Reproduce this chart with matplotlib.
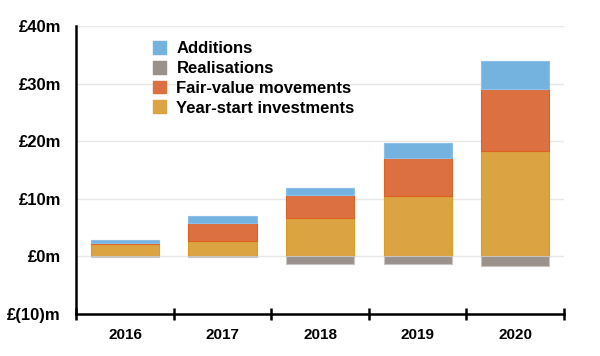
import matplotlib
matplotlib.use("Agg")
import matplotlib.pyplot as plt
from matplotlib.patches import Patch
import numpy as np

years = ["2016", "2017", "2018", "2019", "2020"]
year_start = [2.1, 2.7, 6.7, 10.5, 18.3]
fair_value = [0.2, 3.1, 3.9, 6.6, 10.7]
additions = [0.5, 1.2, 1.3, 2.5, 5.0]
realisations = [-0.1, -0.1, -1.4, -1.4, -1.6]
y_ticks = [-10, 0, 10, 20, 30, 40]
y_labels = ["£(10)m", "£0m", "£10m", "£20m", "£30m", "£40m"]

c_blue = "#74b3e0"
c_gray = "#9b918b"
c_orange = "#dc7040"
c_yellow = "#dba342"

plt.rcParams['font.family'] = ['Liberation Sans', 'DejaVu Sans']
fig = plt.figure(figsize=(6, 3.56), dpi=100)
ax = fig.add_axes([0.127, 0.118, 0.813, 0.809])

x = np.arange(len(years))
w = 0.7
ys = np.array(year_start)
fv = np.array(fair_value)
ad = np.array(additions)
ax.bar(x, ys, w, color=c_yellow, edgecolor="#e09a20", linewidth=0.8, zorder=2)
ax.bar(x, fv, w, bottom=ys, color=c_orange, edgecolor="#e06020", linewidth=0.8, zorder=2)
ax.bar(x, ad, w, bottom=ys + fv, color=c_blue, edgecolor="#8cc0e8", linewidth=0.8, zorder=2)
ax.bar(x, realisations, w, color=c_gray, edgecolor="#c8c4c0", linewidth=0.8, zorder=2)

ax.set_xlim(-0.5, len(years) - 0.5)
ax.set_ylim(-10, 40)
ax.set_yticks(y_ticks)
ax.set_yticklabels(y_labels, fontsize=12, fontweight='bold')
ax.tick_params(axis='y', length=0, pad=11)
ax.set_xticks(x)
ax.set_xticklabels(years, fontsize=11, fontweight='bold')
ax.tick_params(axis='x', which='major', length=0, pad=10)
ax.set_xticks(np.arange(-0.5, len(years)), minor=True)
ax.tick_params(axis='x', which='minor', length=8, width=1.8, direction='inout', color='black')

for yv in y_ticks[1:]:
    ax.axhline(yv, color="#e8e8e8", linewidth=1, zorder=1)

for s in ['top', 'right']:
    ax.spines[s].set_visible(False)
ax.spines['left'].set_linewidth(1.8)
ax.spines['bottom'].set_linewidth(1.8)

handles = [Patch(facecolor=c_blue, edgecolor=c_blue),
           Patch(facecolor=c_gray, edgecolor=c_gray),
           Patch(facecolor=c_orange, edgecolor=c_orange),
           Patch(facecolor=c_yellow, edgecolor=c_yellow)]
labels = ["Additions", "Realisations", "Fair-value movements", "Year-start investments"]
leg = ax.legend(handles, labels, loc='upper left', bbox_to_anchor=(0.127, 1.0),
                frameon=False, prop={'weight': 'bold', 'size': 12},
                handlelength=0.8, handleheight=0.8, handletextpad=0.6, labelspacing=0.28)

fig.savefig("out.png", dpi=100)
